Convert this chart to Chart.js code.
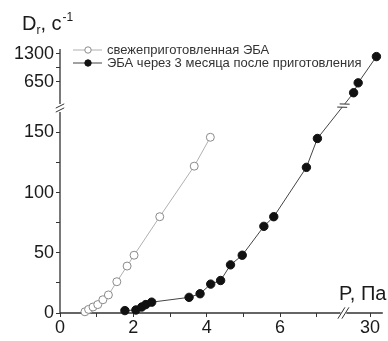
<!DOCTYPE html>
<html>
<head>
<meta charset="utf-8">
<script src="https://cdn.jsdelivr.net/npm/chart.js@4/dist/chart.umd.min.js"></script>
<style>
  body { margin: 0; background: #fff; }
  canvas { display: block; }
</style>
</head>
<body>
<canvas id="c" width="388" height="341"></canvas>
<script>
// data
const freshLabel = "свежеприготовленная ЭБА";
const freshP = [0.68, 0.78, 0.9, 1.03, 1.17, 1.32, 1.55, 1.83, 2.02, 2.72, 3.66, 4.1];
const freshD = [1, 3, 5, 7, 11, 15, 26, 39, 48, 80, 122, 146];

const agedLabel = "ЭБА через 3 месяца после приготовления";
const agedP = [1.77, 2.07, 2.23, 2.34, 2.5, 3.52, 3.82, 4.11, 4.38, 4.65, 4.97, 5.56, 5.83, 6.72, 7.02, 28.2, 28.7, 30.7];
const agedD = [2, 2.5, 5, 7, 9, 13, 16, 24, 27, 40, 48, 72, 80, 121, 145, 400, 630, 1240];

const xTicks = [0, 2, 4, 6, 30];
const xMinor = [1, 3, 5, 7];
const yTicks = [0, 50, 100, 150, 650, 1300];
const yMinor = [25, 75, 125, 975];

const FONT = "'Liberation Sans', Arial, sans-serif";

// broken axes: each piece maps a value range onto a part of the axis (0..1)
const pieces = {
  x: [{ min: 0, max: 7.65, from: 0, to: 0.869 }, { min: 27.4, max: 31.4, from: 0.887, to: 1 }],
  y: [{ min: 0, max: 167, from: 0, to: 0.75 }, { min: 139.3, max: 1509, from: 0.78, to: 1 }]
};

class BrokenScale extends Chart.LinearScale {
  getPixelForValue(value) {
    const p = pieces[this.id];
    const s = value > p[0].max ? p[1] : p[0];
    const dec = s.from + (value - s.min) / (s.max - s.min) * (s.to - s.from);
    return this.getPixelForDecimal(dec);
  }
  getValueForPixel(pixel) {
    const p = pieces[this.id];
    const dec = this.getDecimalForPixel(pixel);
    const s = dec > p[0].to ? p[1] : p[0];
    return s.min + (dec - s.from) / (s.to - s.from) * (s.max - s.min);
  }
}
BrokenScale.id = 'broken';
BrokenScale.defaults = Chart.LinearScale.defaults;
Chart.register(BrokenScale);

function pts(xs, ys) { return xs.map((x, i) => ({ x: x, y: ys[i] })); }

function slashes(ctx, cx, cy, dx, dy, px, py, gap) {
  // two short parallel strokes across a line (direction dx,dy), perpendicular px,py
  ctx.save();
  ctx.strokeStyle = '#333';
  ctx.lineWidth = 1;
  for (const k of [-gap, gap]) {
    const ox = cx + dx * k, oy = cy + dy * k;
    ctx.beginPath();
    ctx.moveTo(ox - px * 5, oy - py * 5);
    ctx.lineTo(ox + px * 5, oy + py * 5);
    ctx.stroke();
  }
  ctx.restore();
}

const decor = {
  id: 'decor',
  beforeDatasetsDraw(chart) {
    const ctx = chart.ctx;
    const xs = chart.scales.x, ys = chart.scales.y;
    const x0 = xs.getPixelForDecimal(0), x1 = xs.getPixelForDecimal(pieces.x[0].to);
    const x2 = xs.getPixelForDecimal(pieces.x[1].from), x3 = xs.getPixelForDecimal(1);
    const yb = ys.getPixelForDecimal(0), y1 = ys.getPixelForDecimal(pieces.y[0].to);
    const y2 = ys.getPixelForDecimal(pieces.y[1].from), y3 = ys.getPixelForDecimal(0.985);
    ctx.save();
    ctx.strokeStyle = '#333';
    ctx.lineWidth = 1.3;
    ctx.beginPath();
    ctx.moveTo(x0, yb); ctx.lineTo(x1, yb);
    ctx.moveTo(x2, yb); ctx.lineTo(x3, yb);
    ctx.moveTo(x0, yb); ctx.lineTo(x0, y1);
    ctx.moveTo(x0, y2); ctx.lineTo(x0, y3);
    ctx.stroke();
    ctx.restore();
    // axis break marks
    const s = 1 / Math.sqrt(2);
    slashes(ctx, (x1 + x2) / 2, yb, 1, 0, s, -s * 1.6, 2);
    slashes(ctx, x0, (y1 + y2) / 2, 0, 1, s * 1.2, -s * 0.6, 2);
  },
  afterDatasetsDraw(chart) {
    const ctx = chart.ctx;
    const xs = chart.scales.x;
    // break mark on the aged curve where it jumps to the far segment
    const pts = chart.getDatasetMeta(1).data;
    const a = pts[14], b = pts[15];
    const bx = (xs.getPixelForDecimal(pieces.x[0].to) + xs.getPixelForDecimal(pieces.x[1].from)) / 2;
    const t = (bx - a.x) / (b.x - a.x);
    const cx = a.x + (b.x - a.x) * t, cy = a.y + (b.y - a.y) * t;
    const len = Math.hypot(b.x - a.x, b.y - a.y);
    const dx = (b.x - a.x) / len, dy = (b.y - a.y) / len;
    ctx.save();
    ctx.fillStyle = '#fff';
    ctx.beginPath(); ctx.arc(cx, cy, 2, 0, Math.PI * 2); ctx.fill();
    ctx.restore();
    slashes(ctx, cx, cy, dx, dy, -dy * 0.8 + dx * 0.6, dx * 0.8 + dy * 0.6, 2);

    // axis titles
    ctx.save();
    ctx.fillStyle = '#1a1a1a';
    ctx.textBaseline = 'alphabetic';
    ctx.font = '20px ' + FONT;
    let x = 22;
    ctx.fillText('D', x, 30); x += ctx.measureText('D').width;
    ctx.font = '12px ' + FONT;
    ctx.fillText('r', x, 34); x += ctx.measureText('r').width;
    ctx.font = '20px ' + FONT;
    ctx.fillText(', c', x, 30); x += ctx.measureText(', c').width + 1;
    ctx.font = '12px ' + FONT;
    ctx.fillText('-1', x, 21);
    ctx.font = '20px ' + FONT;
    ctx.fillText('P, Па', 339, 300);

    // legend
    const rows = [[0, 50], [1, 63]];
    ctx.font = '13px ' + FONT;
    for (const [i, y] of rows) {
      const ds = chart.data.datasets[i];
      ctx.strokeStyle = ds.borderColor;
      ctx.lineWidth = 1;
      ctx.beginPath(); ctx.moveTo(73, y); ctx.lineTo(102, y); ctx.stroke();
      ctx.beginPath(); ctx.arc(88, y, 3.2, 0, Math.PI * 2);
      ctx.fillStyle = ds.pointBackgroundColor; ctx.fill();
      ctx.strokeStyle = ds.pointBorderColor; ctx.stroke();
      ctx.fillStyle = '#333';
      ctx.textBaseline = 'middle';
      ctx.fillText(ds.label, 107, y);
    }
    ctx.restore();
  }
};

function tickScale(major, minor) {
  return (scale) => {
    scale.ticks = major.concat(minor).sort((a, b) => a - b).map(v => ({ value: v }));
  };
}

new Chart(document.getElementById('c'), {
  type: 'scatter',
  data: {
    datasets: [
      {
        label: freshLabel,
        data: pts(freshP, freshD),
        showLine: true,
        borderColor: '#b0b0b0',
        borderWidth: 1,
        pointRadius: 4,
        pointBackgroundColor: '#fff',
        pointBorderColor: '#8a8a8a',
        pointBorderWidth: 1,
        clip: false
      },
      {
        label: agedLabel,
        data: pts(agedP, agedD),
        showLine: true,
        borderColor: '#444',
        borderWidth: 1,
        pointRadius: 4.2,
        pointBackgroundColor: '#111',
        pointBorderColor: '#111',
        pointBorderWidth: 1,
        clip: false
      }
    ]
  },
  options: {
    responsive: false,
    animation: false,
    events: [],
    layout: { padding: { top: 45, right: 0, left: 0, bottom: 0 } },
    plugins: { legend: { display: false }, tooltip: { enabled: false } },
    scales: {
      x: {
        type: 'broken',
        min: 0,
        max: 31.4,
        afterFit: (s) => { s.height = 28; },
        afterBuildTicks: tickScale(xTicks, xMinor),
        grid: { drawOnChartArea: false, drawTicks: true, tickLength: 4, tickColor: '#333' },
        border: { display: false },
        ticks: {
          autoSkip: false,
          maxRotation: 0,
          padding: 0,
          color: '#1a1a1a',
          font: { size: 18, family: FONT },
          callback: (v) => xTicks.includes(v) ? String(v) : ''
        }
      },
      y: {
        type: 'broken',
        min: 0,
        max: 1509,
        afterFit: (s) => { s.width = 60; },
        afterBuildTicks: tickScale(yTicks, yMinor),
        grid: { drawOnChartArea: false, drawTicks: true, tickLength: 4, tickColor: '#333' },
        border: { display: false },
        ticks: {
          autoSkip: false,
          padding: 2,
          color: '#1a1a1a',
          font: { size: 18, family: FONT },
          callback: (v) => yTicks.includes(v) ? String(v) : ''
        }
      }
    }
  },
  plugins: [decor]
});
</script>
</body>
</html>
